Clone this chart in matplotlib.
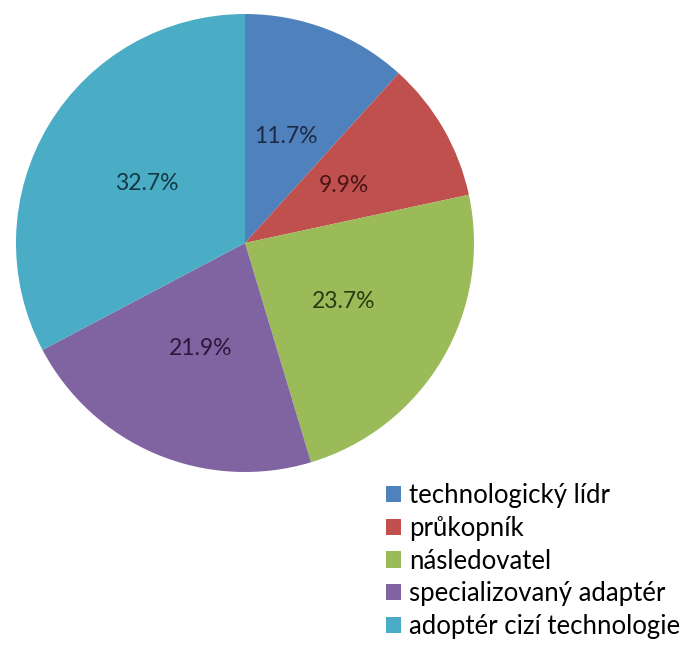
import matplotlib.pyplot as plt

labels = ["technologický lídr", "průkopník", "následovatel",
          "specializovaný adaptér", "adoptér cizí technologie"]
shares = [11.7, 9.9, 23.7, 21.9, 32.7]
colors = ["#4f81bd", "#c0504d", "#9bbb59", "#8064a2", "#4bacc6"]
text_colors = ["#1c2a44", "#4a1515", "#2a3a12", "#2a173d", "#123a44"]

plt.rcParams["font.family"] = ["Lato", "DejaVu Sans"]

fig = plt.figure(figsize=(6.97, 6.45), dpi=100)
ax = fig.add_axes([16 / 697, 1 - 472 / 645, 458 / 697, 458 / 645])

wedges, _, autotexts = ax.pie(
    shares, colors=colors, startangle=90, counterclock=False,
    pctdistance=0.5, autopct="%1.1f%%",
    wedgeprops={"linewidth": 0},
)
# keep the printed percentages as in the source
for t, s, c in zip(autotexts, shares, text_colors):
    t.set_text(f"{s:.1f}%")
    t.set_color(c)
    t.set_fontsize(16.5)
ax.set_xlim(-1, 1)
ax.set_ylim(-1, 1)
ax.set_aspect("equal")

fig.legend(
    wedges, labels, loc="lower left",
    bbox_to_anchor=(386 / 697, 6 / 645),
    frameon=False, fontsize=18.5,
    handlelength=0.6, handleheight=0.6, handletextpad=0.3,
    labelspacing=0.3, borderaxespad=0, borderpad=0,
)

fig.savefig("out.png", dpi=100)
